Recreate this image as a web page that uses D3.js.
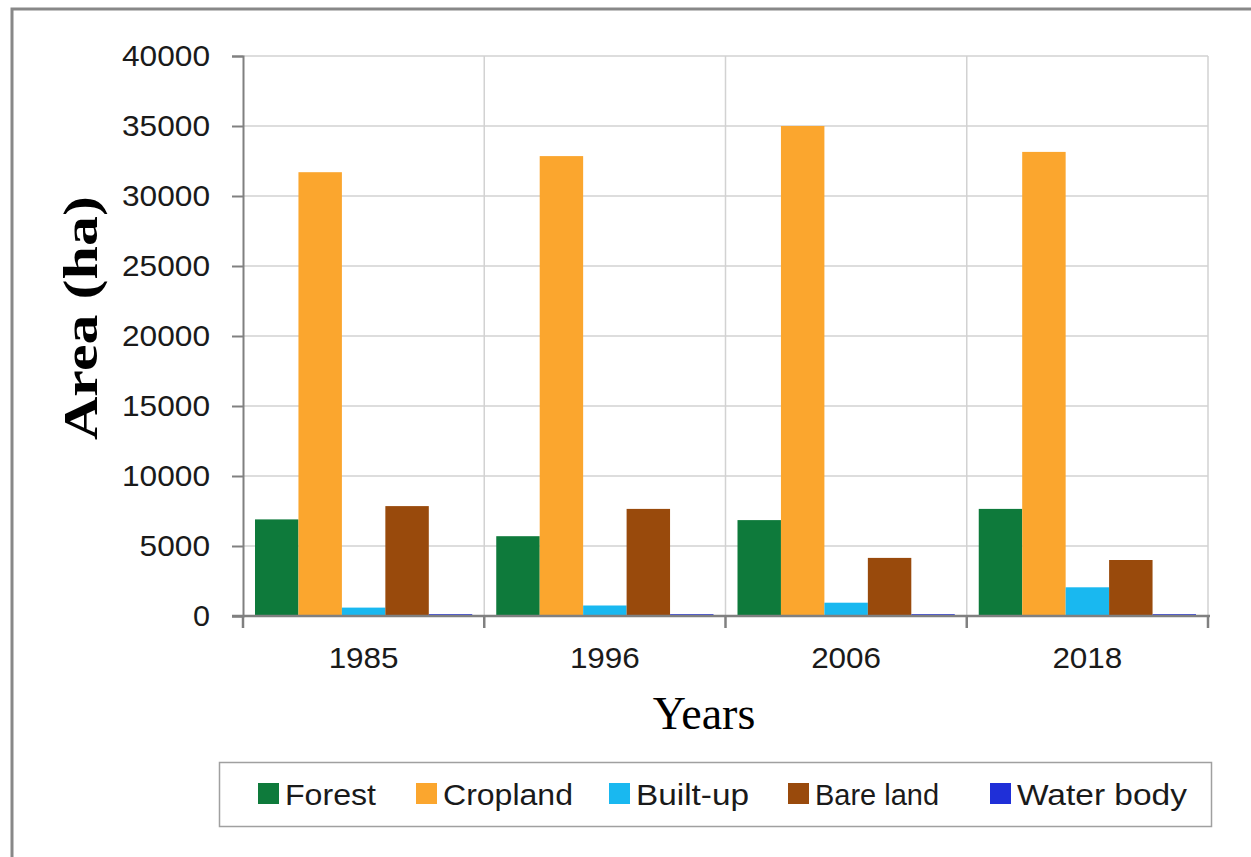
<!DOCTYPE html>
<html>
<head>
<meta charset="utf-8">
<script src="https://cdn.jsdelivr.net/npm/d3@7"></script>
<style>
  html, body { margin: 0; padding: 0; background: #fff; }
  svg { display: block; }
</style>
</head>
<body>
<svg id="chart" width="1251" height="857"></svg>
<script>
// Land-cover area by year (ha)
const years = ["1985", "1996", "2006", "2018"];
const classes = ["Forest", "Cropland", "Built-up", "Bare land", "Water body"];
const classColors = ["#0e7a3b", "#fba62e", "#19b8f0", "#994a0c", "#1f2fd8"];
const forest   = [6900, 5700, 6850, 7650];
const cropland = [31700, 32850, 35000, 33150];
const builtUp  = [600, 750, 950, 2050];
const bareLand = [7850, 7650, 4150, 4000];
const waterBody = [130, 130, 130, 130];
const yTicks = [0, 5000, 10000, 15000, 20000, 25000, 30000, 35000, 40000];

const seriesValues = [forest, cropland, builtUp, bareLand, waterBody];
const rows = years.map((yr, i) => ({
  year: yr,
  values: classes.map((c, k) => ({ cls: c, color: classColors[k], value: seriesValues[k][i] }))
}));

const svg = d3.select("#chart");
const plot = { left: 243, right: 1208, top: 56, bottom: 616 };
const sans = "'Liberation Sans', Arial, sans-serif";
const serif = "'Liberation Serif', 'Times New Roman', serif";

// outer frame (top and left edges)
svg.append("path")
  .attr("d", "M12,1000 L12,9 L1260,9")
  .attr("fill", "none").attr("stroke", "#888").attr("stroke-width", 3);

const x0 = d3.scaleBand().domain(years).range([plot.left, plot.right]).padding(0);
const x1 = d3.scaleBand().domain(classes).range([12, x0.bandwidth() - 12]).padding(0);
const y = d3.scaleLinear().domain([0, 40000]).range([plot.bottom, plot.top]);

// horizontal gridlines
svg.append("g").selectAll("line").data(yTicks.filter(t => t > 0)).join("line")
  .attr("x1", plot.left).attr("x2", plot.right)
  .attr("y1", d => y(d)).attr("y2", d => y(d))
  .attr("stroke", "#d2d2d2").attr("stroke-width", 1.5);

// vertical gridlines between year groups + right edge
svg.append("g").selectAll("line").data(years.slice(1).map(d => x0(d)).concat([plot.right])).join("line")
  .attr("x1", d => d).attr("x2", d => d)
  .attr("y1", plot.top).attr("y2", plot.bottom)
  .attr("stroke", "#d2d2d2").attr("stroke-width", 1.5);

// bars
const groups = svg.append("g").selectAll("g").data(rows).join("g")
  .attr("transform", d => `translate(${x0(d.year)},0)`);
groups.selectAll("rect").data(d => d.values).join("rect")
  .attr("x", d => x1(d.cls))
  .attr("width", x1.bandwidth())
  .attr("y", d => y(d.value))
  .attr("height", d => y(0) - y(d.value))
  .attr("fill", d => d.color);

// y axis
const yAxis = svg.append("g")
  .attr("transform", `translate(${plot.left},0)`)
  .call(d3.axisLeft(y).tickValues(yTicks).tickSize(11).tickPadding(22).tickFormat(d3.format("d")));
yAxis.select(".domain").attr("stroke", "#808080").attr("stroke-width", 2);
yAxis.selectAll(".tick line").attr("stroke", "#808080").attr("stroke-width", 2);
yAxis.selectAll(".tick text")
  .attr("font-family", sans)
  .attr("font-size", 30).attr("fill", "#1a1a1a")
  .attr("lengthAdjust", "spacingAndGlyphs")
  .each(function(d) {
    const n = String(d).length;
    d3.select(this).attr("textLength", n === 1 ? 17 : 17.6 * n);
  });

// x axis
const xAxis = svg.append("g")
  .attr("transform", `translate(0,${plot.bottom})`);
xAxis.append("line")
  .attr("x1", plot.left - 11).attr("x2", plot.right + 2)
  .attr("y1", 0).attr("y2", 0)
  .attr("stroke", "#808080").attr("stroke-width", 2.5);
xAxis.selectAll("line.tk").data(years.map(d => x0(d)).concat([plot.right])).join("line")
  .attr("class", "tk")
  .attr("x1", d => d).attr("x2", d => d)
  .attr("y1", 0).attr("y2", 12)
  .attr("stroke", "#808080").attr("stroke-width", 2.5);
xAxis.selectAll("text").data(years).join("text")
  .attr("x", d => x0(d) + x0.bandwidth() / 2)
  .attr("y", 52)
  .attr("text-anchor", "middle")
  .attr("font-family", sans)
  .attr("font-size", 30).attr("fill", "#1a1a1a")
  .attr("textLength", 70).attr("lengthAdjust", "spacingAndGlyphs")
  .text(d => d);

// axis titles
svg.append("text")
  .attr("transform", "translate(97,318) rotate(-90)")
  .attr("text-anchor", "middle")
  .attr("font-family", serif)
  .attr("font-weight", "bold").attr("font-size", 48).attr("fill", "#000")
  .attr("textLength", 244).attr("lengthAdjust", "spacingAndGlyphs")
  .text("Area (ha)");

svg.append("text")
  .attr("x", 704).attr("y", 729)
  .attr("text-anchor", "middle")
  .attr("font-family", serif)
  .attr("font-size", 46).attr("fill", "#000")
  .text("Years");

// legend
const legend = svg.append("g");
legend.append("rect")
  .attr("x", 219.5).attr("y", 762.5).attr("width", 992).attr("height", 64)
  .attr("fill", "#fff").attr("stroke", "#a0a0a0").attr("stroke-width", 1.5);
const legendX = [258, 416, 609, 788, 990];
const legendW = [91, 130, 113, 124, 170];
const items = legend.selectAll("g").data(classes).join("g")
  .attr("transform", (d, i) => `translate(${legendX[i]},0)`);
items.append("rect")
  .attr("x", 0).attr("y", 783).attr("width", 21).attr("height", 21)
  .attr("fill", (d, i) => classColors[i]);
items.append("text")
  .attr("x", 27).attr("y", 805)
  .attr("font-family", sans)
  .attr("font-size", 30).attr("fill", "#1a1a1a")
  .attr("textLength", (d, i) => legendW[i]).attr("lengthAdjust", "spacingAndGlyphs")
  .text(d => d);
</script>
</body>
</html>
